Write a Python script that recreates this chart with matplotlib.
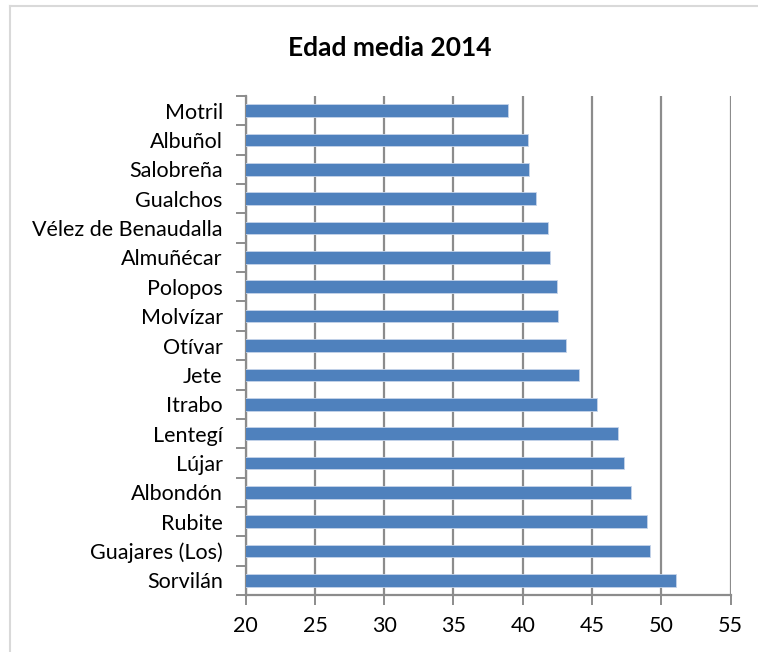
import matplotlib.pyplot as plt
import numpy as np
from matplotlib.lines import Line2D

# municipalities, top to bottom as drawn
municipios = ["Motril", "Albuñol", "Salobreña", "Gualchos", "Vélez de Benaudalla",
              "Almuñécar", "Polopos", "Molvízar", "Otívar", "Jete", "Itrabo",
              "Lentegí", "Lújar", "Albondón", "Rubite", "Guajares (Los)", "Sorvilán"]
edad_media = [38.95, 40.35, 40.42, 40.98, 41.82, 41.94, 42.44, 42.54, 43.14,
              44.08, 45.33, 46.85, 47.33, 47.84, 49.0, 49.2, 51.1]
xticks = [20, 25, 30, 35, 40, 45, 50, 55]

plt.rcParams['font.family'] = ['Lato', 'DejaVu Sans']

fig = plt.figure(figsize=(7.58, 6.52), dpi=100)
W, H = 758, 652

# outer chart frame: only top and left edges are visible in the crop
frame = "#d9d9d9"
fig.add_artist(Line2D([10 / W, 1.0], [1 - 6 / H, 1 - 6 / H], transform=fig.transFigure,
                      color=frame, linewidth=1.5))
fig.add_artist(Line2D([10 / W, 10 / W], [0, 1 - 6 / H], transform=fig.transFigure,
                      color=frame, linewidth=1.5))

ax = fig.add_axes([245.7 / W, 1 - 595 / H, (730.5 - 245.7) / W, (595 - 96) / H])

y = np.arange(len(municipios))
ax.barh(y, edad_media, left=0, height=0.43, color="#4F81BD",
        edgecolor="#c6d4ea", linewidth=0.6, zorder=3)

ax.set_xlim(20, 55)
ax.set_ylim(len(municipios) - 0.5, -0.5)
ax.set_xticks(xticks)
ax.set_xticklabels([str(v) for v in xticks])
ax.xaxis.grid(True, color="#8c8c8c", linewidth=1.6, zorder=0)

ax.set_yticks(y)
ax.set_yticklabels(municipios)
ax.set_yticks(np.arange(len(municipios) + 1) - 0.5, minor=True)

for s in ["top", "right"]:
    ax.spines[s].set_visible(False)
for s in ["left", "bottom"]:
    ax.spines[s].set_color("#8c8c8c")
    ax.spines[s].set_linewidth(1.6)

ax.tick_params(axis="y", which="major", length=0, pad=16.5, labelsize=15.5, colors="black")
ax.tick_params(axis="y", which="minor", length=7, width=1.4, color="#8c8c8c")
ax.tick_params(axis="x", length=7, width=1.4, color="#8c8c8c", pad=8,
               labelsize=15.5, labelcolor="black")

fig.text(390 / W, 1 - 48 / H, "Edad media 2014", ha="center", va="center",
         fontsize=19, fontweight="bold")

fig.savefig("out.png", dpi=100)
